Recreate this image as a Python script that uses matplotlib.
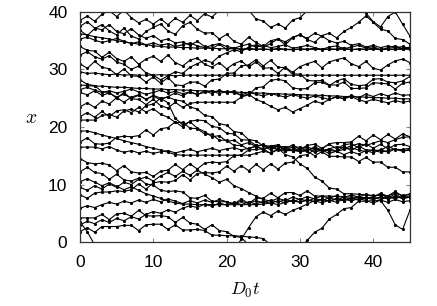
import matplotlib
matplotlib.use('Agg')
import matplotlib.pyplot as plt

plt.rcParams['font.family'] = ['Liberation Sans', 'DejaVu Sans']
plt.rcParams['mathtext.fontset'] = 'cm'

# sample times (D0 t)
t = [0, 1, 2, 3, 4, 5, 6, 7, 8, 9, 10, 11, 12, 13, 14, 15, 16, 17, 18, 19, 20,
     21, 22, 23, 24, 25, 26, 27, 28, 29, 30, 31, 32, 33, 34, 35, 36, 37, 38, 39, 40,
     41, 42, 43, 44, 45]

# particle positions x, one list per particle
x01 = [38.5, 39.3, 38.4, 39.6, 40.2, 39.2, 40.3, 39.0, 38.1, 38.7, 37.9,
       38.8, 37.8, 38.9, 38.2, 39.4, 38.5, 39.7, 39.1, 40.3, 41.0,
       41.5, 41.0, 40.3, 38.8, 38.4, 37.3, 37.9, 37.2, 38.6, 39.0,
       40.2, 41.0, 41.5, 41.0, 40.5, 41.2, 41.0, 40.5, 39.8, 38.3,
       37.4, 39.2, 40.0, 37.9, 35.8]
x02 = [36.8, 35.9, 37.1, 37.8, 36.7, 36.0, 37.2, 35.8, 35.3, 36.6, 37.3,
       37.9, 36.7, 36.1, 37.6, 38.2, 37.0, 36.3, 36.4, 35.3, 36.1,
       34.9, 34.4, 35.6, 34.7, 34.0, 35.0, 35.3, 34.3, 35.5, 36.1,
       35.2, 34.7, 35.9, 36.3, 35.5, 36.6, 37.3, 38.2, 39.3, 38.2,
       37.0, 36.7, 35.4, 35.2, 34.4]
x03 = [36.2, 36.0, 35.7, 35.5, 35.3, 35.0, 34.8, 34.6, 34.4, 34.3, 34.1,
       34.0, 33.9, 33.9, 33.8, 33.8, 33.7, 33.7, 33.7, 33.6, 33.6,
       33.6, 33.6, 33.5, 33.5, 33.5, 33.5, 33.5, 33.5, 33.5, 33.5,
       33.5, 33.5, 33.5, 33.5, 33.5, 33.5, 33.5, 33.5, 33.5, 33.5,
       33.5, 33.5, 33.5, 33.5, 33.5]
x04 = [35.3, 35.6, 35.1, 34.7, 35.0, 35.4, 34.9, 34.5, 34.8, 34.3, 34.6,
       34.2, 34.5, 34.0, 34.3, 34.6, 34.1, 33.8, 34.2, 34.5, 34.0,
       33.7, 34.1, 34.4, 33.9, 34.2, 33.8, 34.0, 34.3, 33.7, 33.9,
       34.2, 33.8, 33.5, 33.9, 34.1, 33.6, 33.9, 34.2, 33.7, 34.0,
       33.4, 33.8, 34.1, 33.6, 33.9]
x05 = [34.0, 33.3, 33.2, 32.1, 33.0, 31.9, 31.4, 32.2, 30.9, 31.8, 32.3,
       31.4, 32.5, 31.2, 30.6, 31.6, 32.0, 30.9, 30.4, 31.2, 30.1,
       31.0, 31.5, 30.4, 31.3, 30.2, 30.3, 29.3, 30.4, 29.5, 30.5,
       31.0, 31.4, 30.3, 31.3, 31.7, 32.0, 31.0, 30.5, 31.4, 30.2,
       29.9, 30.8, 31.5, 31.8, 31.2]
x06 = [29.6, 29.3, 29.4, 29.2, 29.1, 29.2, 29.0, 29.1, 29.0, 29.0, 29.0,
       29.1, 29.0, 28.9, 29.0, 29.0, 29.0, 29.0, 29.0, 29.0, 29.0,
       29.0, 29.0, 29.0, 29.0, 29.0, 29.0, 29.0, 29.0, 29.0, 29.0,
       29.0, 29.0, 29.0, 29.0, 29.0, 29.0, 29.0, 29.0, 29.0, 29.0,
       29.0, 29.0, 29.0, 29.0, 29.0]
x07 = [31.0, 30.2, 31.4, 30.4, 30.1, 29.1, 30.1, 28.9, 28.8, 27.8, 28.7,
       27.6, 28.6, 27.3, 27.2, 27.8, 27.8, 27.1, 28.2, 28.3, 29.3,
       29.4, 30.6, 30.8, 31.7, 30.6, 31.6, 30.4, 30.3, 29.2, 29.2,
       28.1, 28.0, 28.1, 27.3, 27.3, 27.8, 26.7, 26.7, 26.8, 27.7,
       27.6, 27.5, 26.6, 27.6, 27.8]
x08 = [27.3, 27.2, 27.1, 27.1, 27.0, 26.9, 26.9, 26.8, 26.7, 26.7, 26.6,
       26.6, 26.5, 26.5, 26.4, 26.4, 26.3, 26.3, 26.2, 26.2, 26.1,
       26.1, 26.0, 26.0, 25.9, 25.9, 25.8, 25.8, 25.7, 25.7, 25.6,
       25.6, 25.5, 25.5, 25.4, 25.4, 25.3, 25.3, 25.2, 25.2, 25.1,
       25.1, 25.0, 25.0, 24.9, 24.9]
x09 = [26.5, 26.9, 26.4, 26.0, 26.3, 25.9, 26.2, 26.6, 26.1, 25.7, 26.0,
       26.4, 25.9, 26.2, 25.8, 26.1, 25.7, 26.0, 26.3, 25.8, 26.2,
       25.9, 25.6, 26.0, 25.7, 25.4, 25.8, 25.5, 25.2, 25.6, 25.3,
       25.0, 25.4, 25.1, 24.8, 25.2, 24.9, 25.3, 24.7, 24.4, 24.8,
       24.5, 24.2, 24.6, 24.3, 24.5]
x10 = [28.2, 27.4, 27.2, 26.1, 26.0, 25.0, 26.0, 24.9, 24.8, 23.9, 24.8,
       23.7, 23.3, 24.3, 23.4, 24.1, 24.3, 24.3, 24.3, 24.3, 24.3,
       24.3, 25.2, 25.6, 26.8, 27.0, 28.1, 28.3, 28.0, 26.8, 26.6,
       26.7, 27.7, 27.8, 27.2, 28.0, 28.4, 27.4, 27.2, 27.3, 28.3,
       28.4, 27.8, 27.7, 28.0, 28.8]
x11 = [21.8, 22.5, 21.7, 22.7, 21.8, 22.8, 23.0, 22.5, 23.4, 22.6, 23.2,
       22.2, 21.7, 20.8, 20.8, 19.8, 19.7, 18.8, 18.7, 17.7, 17.7,
       16.8, 16.8, 16.1, 16.8, 16.0, 16.7, 16.9, 16.2, 16.9, 16.1,
       16.8, 17.0, 16.3, 17.0, 16.2, 16.9, 17.1, 16.4, 17.1, 16.3,
       17.0, 16.2, 16.9, 17.0, 16.6]
x12 = [21.2, 21.2, 21.2, 22.0, 22.2, 21.7, 22.8, 23.1, 22.6, 23.7, 24.0,
       25.0, 25.2, 24.7, 24.5, 23.5, 23.1, 22.0, 21.8, 20.6, 20.3,
       19.2, 19.0, 17.8, 17.6, 16.7, 16.7, 16.6, 16.6, 16.5, 16.5,
       15.8, 16.6, 15.9, 15.9, 15.8, 16.6, 15.9, 16.7, 16.0, 16.0,
       15.9, 16.7, 16.0, 16.1, 16.3]
x13 = [19.3, 19.3, 19.0, 18.6, 18.3, 18.0, 17.6, 17.3, 17.0, 16.6, 16.3,
       16.0, 15.6, 15.2, 15.1, 15.1, 15.1, 15.1, 15.1, 15.1, 15.1,
       15.1, 15.1, 15.1, 15.4, 15.8, 15.5, 16.0, 16.3, 15.9, 16.2,
       16.5, 16.1, 15.8, 16.2, 16.6, 16.3, 16.7, 17.1, 16.8, 17.2,
       17.6, 17.3, 17.8, 18.2, 18.3]
x14 = [17.4, 18.1, 17.1, 17.0, 17.2, 18.2, 18.4, 18.3, 18.5, 19.5, 18.6,
       19.7, 19.9, 20.9, 20.0, 21.0, 21.2, 21.1, 20.1, 19.9, 18.9,
       18.8, 17.8, 17.7, 16.8, 16.8, 16.0, 16.7, 15.9, 15.9, 15.8,
       15.8, 15.0, 15.7, 14.9, 14.9, 14.8, 14.8, 14.0, 14.7, 13.9,
       13.9, 13.0, 13.0, 12.2, 12.2]
x15 = [16.5, 16.5, 16.5, 16.2, 16.6, 16.0, 15.6, 15.9, 15.5, 15.8, 15.4,
       15.7, 15.9, 15.5, 15.8, 16.1, 15.7, 16.0, 16.3, 15.9, 16.2,
       16.4, 16.0, 16.3, 16.6, 16.2, 16.5, 16.1, 15.8, 16.1, 15.7,
       16.0, 16.3, 15.9, 16.2, 15.8, 16.1, 16.4, 16.0, 15.7, 16.0,
       15.6, 15.9, 16.2, 15.8, 16.0]
x16 = [14.5, 13.8, 13.6, 13.7, 13.4, 12.4, 13.3, 12.2, 12.0, 12.1, 11.4,
       12.3, 12.5, 13.5, 12.6, 13.6, 12.7, 13.7, 13.9, 13.8, 14.0,
       15.0, 15.1, 16.0, 16.1, 16.2, 15.4, 16.3, 15.2, 14.8, 13.6,
       12.8, 11.3, 10.6, 9.4, 9.2, 8.4, 8.4, 8.3, 8.2, 8.1,
       8.1, 8.0, 8.8, 7.9, 8.4]
x17 = [10.5, 11.0, 10.4, 9.8, 10.3, 9.7, 9.1, 9.6, 9.0, 8.4, 8.0,
       7.6, 7.1, 6.8, 6.6, 6.6, 6.5, 6.5, 6.5, 6.5, 6.5,
       6.5, 6.5, 6.5, 6.5, 6.6, 6.8, 6.5, 6.9, 7.2, 6.9,
       7.3, 7.0, 7.4, 7.1, 7.5, 7.2, 7.6, 7.3, 7.7, 7.4,
       7.8, 7.5, 7.9, 7.6, 7.8]
x18 = [8.2, 7.6, 8.5, 8.7, 8.7, 8.9, 8.8, 9.1, 10.1, 9.2, 10.3,
       10.5, 10.4, 10.7, 11.7, 10.8, 11.9, 12.1, 12.0, 12.2, 13.2,
       12.3, 13.3, 12.4, 13.5, 12.6, 13.6, 12.7, 13.7, 13.9, 15.0,
       15.2, 16.1, 16.2, 17.1, 17.3, 17.3, 17.4, 18.4, 17.6, 18.6,
       17.8, 18.7, 17.9, 18.8, 18.3]
x19 = [5.9, 6.3, 6.0, 6.5, 6.9, 6.6, 7.1, 6.8, 7.3, 6.9, 7.4,
       7.0, 7.5, 7.1, 6.7, 7.2, 6.8, 7.3, 6.9, 7.4, 7.0,
       6.6, 7.1, 6.7, 7.2, 6.8, 7.3, 6.9, 7.4, 7.0, 7.5,
       7.1, 7.6, 7.2, 7.7, 7.3, 7.8, 7.4, 7.9, 7.5, 7.8,
       7.4, 7.9, 7.5, 8.0, 7.7]
x20 = [4.2, 4.2, 4.2, 4.8, 3.9, 4.9, 5.0, 4.5, 5.5, 4.6, 4.5,
       4.6, 4.4, 3.4, 4.3, 3.3, 3.1, 2.2, 3.0, 2.0, 1.8,
       1.0, 0.8, -0.5, -1.5, -2.0, -2.0, -2.0, -2.0, -2.0, -2.0,
       -2.0, -2.0, -2.0, -2.0, -2.0, -2.0, -2.0, -2.0, -2.0, -2.0,
       -2.0, -2.0, -2.0, -2.0, -2.0]
x21 = [1.8, 2.5, 1.7, 2.7, 2.7, 2.7, 2.9, 2.9, 2.0, 3.0, 3.1,
       3.1, 2.2, 3.0, 2.1, 2.1, 2.2, 2.0, 1.2, 1.2, 1.1,
       1.1, 1.0, 0.9, 0.8, 0.6, -0.5, -1.5, -2.0, -2.0, -1.0,
       0.3, 1.7, 2.4, 4.0, 4.8, 5.8, 6.0, 7.1, 7.1, 7.2,
       7.2, 5.5, 3.0, 2.2, 5.5]
x22 = [3.5, 1.8, -0.5, -1.5, -1.5, -1.5, -1.5, -1.5, -1.5, -1.5, -1.5,
       -1.5, -1.5, -1.5, -1.5, -1.5, -1.5, -1.5, -1.5, -1.5, -1.5,
       -1.5, 0.5, 2.5, 4.4, 5.2, 4.6, 5.4, 4.8, 5.5, 6.0,
       6.6, 7.2, 6.8, 7.3, 6.9, 7.5, 7.1, 7.6, 7.2, 6.8,
       7.3, 6.9, 7.4, 7.0, 7.2]
x23 = [12.2, 13.0, 12.1, 11.9, 10.9, 11.8, 10.8, 10.6, 11.1, 10.1, 9.9,
       9.0, 8.8, 8.9, 8.7, 7.7, 7.6, 8.1, 7.1, 7.0, 7.0,
       6.6, 7.5, 6.7, 7.6, 7.6, 8.5, 7.7, 8.6, 8.6, 8.1,
       8.9, 8.0, 8.0, 8.0, 7.9, 7.9, 7.8, 7.8, 7.7, 7.7,
       8.5, 7.6, 8.4, 7.5, 8.1]
x24 = [37.5, 38.3, 37.2, 36.9, 37.8, 36.6, 36.2, 37.1, 36.0, 35.4, 35.9,
       35.0, 35.3, 34.6, 34.8, 34.2, 34.9, 34.0, 33.6, 34.4, 33.5,
       33.8, 33.4, 33.7, 33.5, 33.6, 33.4, 33.7, 33.5, 33.4, 33.6,
       33.5, 33.7, 33.4, 33.6, 33.5, 33.8, 33.4, 33.6, 33.5, 33.7,
       33.4, 33.6, 33.5, 33.7, 33.6]
x25 = [32.5, 33.1, 32.2, 31.8, 32.4, 31.3, 30.9, 30.0, 30.6, 29.4, 29.0,
       28.2, 28.9, 29.6, 29.3, 30.4, 31.0, 31.6, 31.2, 32.3, 32.9,
       33.4, 33.1, 33.9, 34.3, 33.8, 34.5, 35.3, 34.8, 35.6, 36.0,
       35.4, 36.3, 35.8, 35.0, 34.6, 34.9, 34.2, 34.5, 33.9, 34.2,
       33.8, 34.1, 33.7, 34.0, 33.6]
x26 = [23.5, 24.2, 23.4, 24.5, 24.0, 25.1, 24.3, 25.2, 25.6, 24.8, 25.5,
       25.0, 24.2, 21.5, 20.4, 20.9, 19.8, 19.2, 18.3, 18.5, 17.5,
       17.7, 16.9, 17.3, 16.6, 17.0, 16.3, 16.8, 16.0, 16.5, 15.8,
       16.3, 15.6, 16.0, 15.4, 15.8, 15.2, 15.7, 15.3, 15.9, 15.5,
       16.1, 15.6, 16.2, 15.8, 16.1]
x27 = [26.0, 25.6, 26.3, 25.5, 25.9, 25.2, 25.7, 25.0, 25.5, 24.8, 25.4,
       24.7, 25.3, 25.9, 25.4, 26.1, 25.6, 26.3, 25.8, 26.4, 25.9,
       26.3, 25.4, 25.7, 24.8, 24.3, 23.6, 23.0, 23.4, 22.6, 23.2,
       23.8, 24.5, 24.1, 24.8, 25.3, 24.9, 25.5, 25.1, 25.7, 25.3,
       25.8, 25.4, 25.9, 25.5, 25.6]
x28 = [9.5, 9.0, 9.8, 9.2, 10.1, 9.5, 10.4, 10.0, 10.9, 11.3, 10.6,
       11.5, 12.1, 11.4, 12.3, 11.6, 12.5, 11.8, 11.2, 10.4, 10.9,
       9.8, 9.3, 8.6, 8.0, 7.4, 7.1, 7.6, 7.2, 7.8, 7.4,
       7.9, 7.5, 8.0, 7.6, 8.1, 7.7, 8.2, 7.8, 8.3, 7.9,
       8.4, 8.0, 8.5, 8.1, 8.3]
x29 = [3.0, 3.6, 3.2, 3.9, 3.4, 4.1, 3.7, 4.4, 4.0, 4.8, 5.3,
       5.0, 5.6, 5.2, 5.9, 6.3, 6.0, 6.6, 6.2, 6.8, 6.4,
       6.9, 6.5, 7.0, 6.6, 7.1, 6.7, 7.2, 6.8, 7.3, 6.9,
       7.4, 7.0, 7.5, 7.1, 7.6, 7.2, 7.7, 7.3, 7.8, 7.4,
       7.9, 7.5, 8.0, 7.6, 7.8]

paths = [x01, x02, x03, x04, x05, x06, x07, x08, x09, x10, x11, x12,
         x13, x14, x15, x16, x17, x18, x19, x20, x21, x22, x23, x24,
         x25, x26, x27, x28, x29]

fig = plt.figure(figsize=(4.37, 3.06), dpi=100)
ax = fig.add_axes([0.183, 0.209, 0.755, 0.752])

for x in paths:
    n = min(len(t), len(x))
    ax.plot(t[:n], x[:n], color='black', linestyle='-', linewidth=0.8,
            marker='.', markersize=2.5)

ax.set_xlim(0, 45)
ax.set_ylim(0, 40)
ax.set_xticks([0, 10, 20, 30, 40])
ax.set_yticks([0, 10, 20, 30, 40])
ax.tick_params(direction='in', length=3, width=0.8, top=True, right=True,
               labelsize=12.5, color='#888888', pad=9)
for s in ax.spines.values():
    s.set_linewidth(0.9)
    s.set_color('#333333')

ax.set_xlabel(r'$D_0t$', fontsize=13, labelpad=8)
ax.set_ylabel(r'$x$', fontsize=14, rotation=0, labelpad=12)

fig.savefig('out.png', dpi=100)
